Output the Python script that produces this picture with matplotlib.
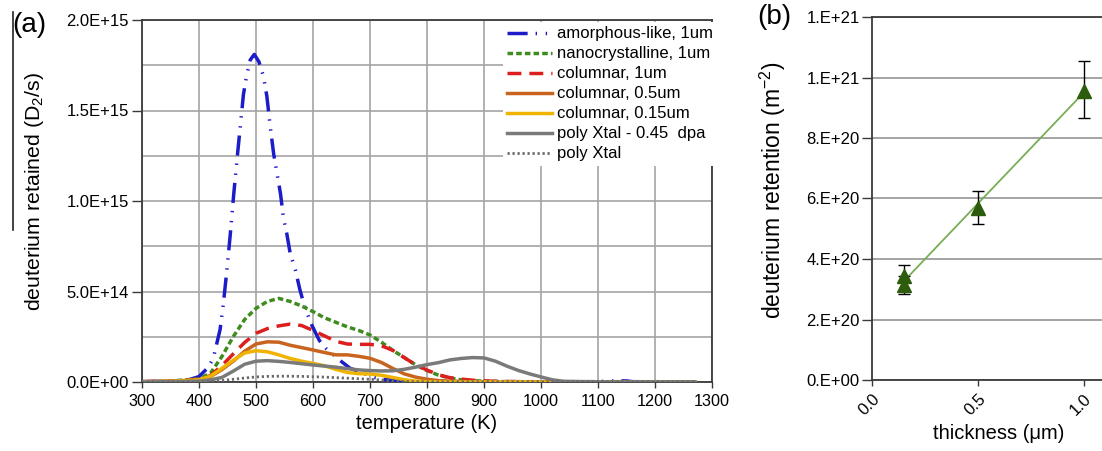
"""Deuterium retention: TDS spectra (a) and retention vs film thickness (b)."""

import matplotlib

matplotlib.use('Agg')
import matplotlib.pyplot as plt
import numpy as np
from matplotlib.lines import Line2D

plt.rcParams['font.family'] = ['Liberation Sans', 'DejaVu Sans']
plt.rcParams['mathtext.fontset'] = 'custom'
plt.rcParams['mathtext.rm'] = 'Liberation Sans'
plt.rcParams['mathtext.it'] = 'Liberation Sans:italic'

# ---- panel (a): desorption rate, values in units of 1E14 D2/s ----
UNIT_A = 1e14

amorphous_temp = [300, 350, 380, 400, 416, 425, 437, 443, 449, 455, 461, 467, 473,
                  478, 484, 490, 497, 505, 513, 519, 525, 531, 537, 543, 548, 554,
                  560, 569, 577, 585, 597, 611, 623, 640, 647, 665, 688, 706, 723,
                  758, 800, 900, 1000, 1100, 1120, 1150, 1160, 1200, 1270]
amorphous = [0.02, 0.05, 0.1, 0.3, 0.8, 1.3, 2.9, 4.4, 6.2, 8.2, 10.4, 12.4, 14.3,
             15.9, 17.0, 17.8, 18.1, 17.7, 16.9, 15.8, 14.1, 12.6, 11.5, 10.4, 9.1, 8.2,
             7.1, 6.2, 5.1, 4.2, 3.2, 2.3, 1.85, 1.4, 1.2, 0.76, 0.48, 0.26, 0.15,
             0.04, 0.01, 0.0, 0.0, 0.02, 0.06, 0.06, 0.02, 0.01, 0.0]

temp_k = [300, 350, 400, 420, 440, 460, 480, 500, 520, 540, 560, 580, 600, 620, 640,
          660, 680, 700, 720, 740, 760, 780, 800, 820, 840, 860, 880, 900, 920, 940,
          960, 980, 1000, 1020, 1040, 1100, 1200, 1270]
nanocrystalline = [0.0, 0.05, 0.18, 0.48, 1.4, 2.5, 3.45, 4.07, 4.45, 4.62, 4.45, 4.2,
                   3.89, 3.55, 3.3, 3.05, 2.85, 2.6, 2.2, 1.75, 1.35, 0.95, 0.63, 0.38,
                   0.22, 0.12, 0.07, 0.05, 0.03, 0.02, 0.02, 0.01, 0.01, 0.01, 0.01,
                   0.0, 0.01, 0.0]
columnar_1um = [0.02, 0.05, 0.15, 0.35, 0.9, 1.55, 2.18, 2.69, 2.95, 3.1, 3.2, 3.12,
                2.85, 2.55, 2.25, 2.1, 2.08, 2.08, 2.0, 1.75, 1.35, 0.95, 0.66, 0.4,
                0.24, 0.16, 0.1, 0.06, 0.04, 0.03, 0.02, 0.02, 0.01, 0.0, 0.0, 0.0,
                0.0, 0.0]
columnar_05um = [0.01, 0.04, 0.12, 0.3, 0.68, 1.15, 1.7, 2.1, 2.22, 2.2, 2.03, 1.9,
                 1.77, 1.63, 1.5, 1.5, 1.42, 1.31, 1.08, 0.75, 0.45, 0.27, 0.15, 0.08,
                 0.05, 0.03, 0.02, 0.01, 0.0, 0.0, 0.0, 0.0, 0.0, 0.0, 0.0, 0.0, 0.0,
                 0.0]
columnar_015um = [0.01, 0.04, 0.12, 0.32, 0.75, 1.2, 1.6, 1.73, 1.67, 1.5, 1.3, 1.15,
                  1.03, 0.9, 0.7, 0.53, 0.46, 0.44, 0.37, 0.25, 0.13, 0.05, 0.02, 0.01,
                  0.0, 0.0, 0.0, 0.0, 0.0, 0.0, 0.0, 0.0, 0.0, 0.0, 0.0, 0.0, 0.0, 0.0]
poly_dpa = [0.0, 0.02, 0.05, 0.12, 0.25, 0.6, 0.98, 1.15, 1.18, 1.14, 1.08, 1.01, 0.94,
            0.88, 0.82, 0.74, 0.67, 0.63, 0.61, 0.62, 0.7, 0.82, 0.96, 1.07, 1.22,
            1.3, 1.35, 1.33, 1.15, 0.88, 0.64, 0.45, 0.28, 0.12, 0.04, 0.01, 0.01,
            0.01]
poly_xtal = [0.0, 0.0, 0.02, 0.04, 0.08, 0.15, 0.22, 0.28, 0.31, 0.32, 0.32, 0.31,
             0.29, 0.27, 0.24, 0.21, 0.18, 0.15, 0.11, 0.06, 0.03, 0.02, 0.01, 0.01,
             0.01, 0.01, 0.01, 0.01, 0.01, 0.01, 0.01, 0.01, 0.01, 0.01, 0.01, 0.01,
             0.01, 0.01]

labels_a = ['amorphous-like, 1um', 'nanocrystalline, 1um', 'columnar, 1um',
            'columnar, 0.5um', 'columnar, 0.15um', 'poly Xtal - 0.45  dpa', 'poly Xtal']
yticks_a = [0, 5e14, 1e15, 1.5e15, 2e15]
yticklabels_a = ['0.0E+00', '5.0E+14', '1.0E+15', '1.5E+15', '2.0E+15']

# ---- panel (b): retention vs thickness ----
thickness_um = [0.15, 0.15, 0.5, 1.0]
retention = [3.45e20, 3.15e20, 5.7e20, 9.55e20]
err_low = [0.2e20, 0.3e20, 0.55e20, 0.9e20]
err_high = [0.35e20, 0.3e20, 0.55e20, 1.0e20]
yticks_b = [0, 2e20, 4e20, 6e20, 8e20, 1e21, 1.2e21]
yticklabels_b = ['0.E+00', '2.E+20', '4.E+20', '6.E+20', '8.E+20', '1.E+21', '1.E+21']
xticks_b = [0.0, 0.5, 1.0]

W, H = 1102, 451
SPINE = '#3a3a3a'
GRID = '#a4a4a4'

fig = plt.figure(figsize=(W / 100, H / 100), dpi=100)

# ---------------- (a) ----------------
ax = fig.add_axes([142 / W, (H - 382) / H, 570 / W, 362 / H])
styles = [
    dict(color='#1c1cc8', lw=2.5, ls=(0, (5.8, 2.3, 0.4, 2.5, 0.4, 2.3))),
    dict(color='#3f8c1e', lw=2.5, ls=(0, (1.6, 0.9))),
    dict(color='#dc1e1e', lw=2.5, ls=(0, (4.0, 2.3))),
    dict(color='#c8641e', lw=2.5, ls='-'),
    dict(color='#f0b400', lw=2.5, ls='-'),
    dict(color='#7a7a7a', lw=2.5, ls='-'),
    dict(color='#6a6a6a', lw=2.0, ls=(0, (0.8, 1.0))),
]
series = [(amorphous_temp, amorphous), (temp_k, nanocrystalline), (temp_k, columnar_1um),
          (temp_k, columnar_05um), (temp_k, columnar_015um), (temp_k, poly_dpa),
          (temp_k, poly_xtal)]
handles = [None] * len(series)
for i in reversed(range(len(series))):
    t, v = series[i]
    (line,) = ax.plot(t, np.array(v) * UNIT_A, label=labels_a[i], zorder=3 + i * 0.1,
                      **styles[i])
    handles[i] = line

ax.set_xlim(300, 1300)
ax.set_ylim(0, 2e15)
ax.set_xticks(range(300, 1301, 100))
ax.set_yticks(yticks_a)
ax.set_yticklabels(yticklabels_a)
ax.set_yticks(np.arange(2.5e14, 2e15, 5e14), minor=True)
ax.tick_params(axis='y', which='minor', length=0)
ax.grid(True, which='both', color=GRID, lw=1.2)
ax.set_axisbelow(True)
ax.tick_params(axis='y', which='major', direction='out', length=7, width=1, color=SPINE,
               labelsize=12, pad=2.5)
ax.tick_params(axis='x', which='major', direction='out', length=4, width=1, color=SPINE,
               labelsize=11.7, pad=5)
for s in ax.spines.values():
    s.set_color(SPINE)
    s.set_linewidth(1.3)
ax.set_xlabel('temperature (K)', fontsize=14.5, labelpad=3)
ax.set_ylabel('deuterium retained (D$_2$/s)', fontsize=15.3)
ax.yaxis.set_label_coords(-0.168, 0.525)

leg = ax.legend(handles=handles, loc='upper left', bbox_to_anchor=(0.633, 0.994),
                borderaxespad=0, fontsize=12, handlelength=2.7, handletextpad=0.3,
                labelspacing=0.3, borderpad=0.25, frameon=True, fancybox=False)
leg.get_frame().set_facecolor('white')
leg.get_frame().set_edgecolor('none')
leg.get_frame().set_alpha(1)

fig.text(12 / W, 1 - 25 / H, '(a)', fontsize=20, va='center', ha='left')
fig.add_artist(Line2D([12.5 / W, 12.5 / W], [1 - 12 / H, 1 - 230 / H], color='#222222',
                      lw=1.2, transform=fig.transFigure))

# ---------------- (b) ----------------
bx = fig.add_axes([872 / W, (H - 380) / H, 254 / W, 363 / H])
slope, intercept = np.polyfit(thickness_um, retention, 1)
fit_x = np.array([min(thickness_um), max(thickness_um)])
bx.plot(fit_x, slope * fit_x + intercept, color='#78ad55', lw=1.3, zorder=3)
bx.errorbar(thickness_um, retention, yerr=[err_low, err_high], fmt='none',
            ecolor='black', elinewidth=1, capsize=4, capthick=1, zorder=4)
bx.plot(thickness_um, retention, ls='none', marker='^', markersize=10,
        color='#2c5c0c', zorder=5)

bx.set_xlim(0, 1.2)
bx.set_ylim(0, 1.2e21)
bx.set_yticks(yticks_b)
bx.set_yticklabels(yticklabels_b)
bx.set_xticks(xticks_b)
bx.set_xticklabels([f'{v:.1f}' for v in xticks_b], rotation=45, ha='right', va='top',
                   rotation_mode='anchor')
bx.grid(True, axis='y', color='#8a8a8a', lw=1.1)
bx.set_axisbelow(True)
bx.tick_params(axis='y', direction='out', length=7, width=1, color=SPINE, labelsize=12,
               pad=2)
bx.tick_params(axis='x', direction='out', length=4, width=1, color=SPINE, labelsize=12,
               pad=4)
for s in bx.spines.values():
    s.set_color(SPINE)
    s.set_linewidth(1.3)
bx.set_xlabel('thickness (\u03bcm)', fontsize=14.5, labelpad=4)
bx.set_ylabel('deuterium retention (m$^{-2}$)', fontsize=16.5)
bx.yaxis.set_label_coords(-0.331, 0.523)

fig.text(757 / W, 1 - 17 / H, '(b)', fontsize=20, va='center', ha='left')

fig.savefig('out.png', dpi=100)
